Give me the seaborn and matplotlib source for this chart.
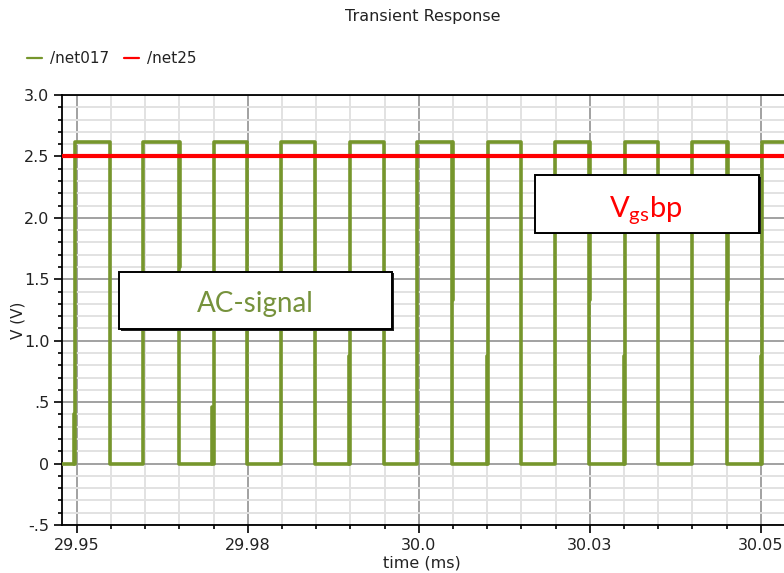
import numpy as np
import pandas as pd
import seaborn as sns
import matplotlib.pyplot as plt
from matplotlib.lines import Line2D
from matplotlib.patches import Rectangle
from matplotlib.ticker import FixedLocator, MultipleLocator

# ---------------- data ----------------
t_start, t_end = 29.94785, 30.0534          # visible time window (ms)
rise_times = [29.9498, 29.9597, 29.9700, 29.9798, 29.9900, 29.9998,
              30.0101, 30.0199, 30.0301, 30.0400, 30.0502]
fall_times = [29.9548, 29.9649, 29.9749, 29.9848, 29.9949, 30.0049,
              30.0149, 30.0249, 30.0350, 30.0450]
v_high = 2.62
v_low = 0.0
v_bias = 2.5                                  # /net25
# partially doubled edge segments (sampling artefacts)
rise_glitch = [0.40, None, 0.46, None, 0.875, None, 0.875, None, 0.875, None, 0.875]
fall_glitch = [None, 1.6, None, None, None, 1.33, None, 1.33, None, 1.33]
glitch_dt = 0.00016

x_ticks = [29.95, 29.975, 30.0, 30.025, 30.05]
x_ticklabels = ["29.95", "29.98", "30.0", "30.03", "30.05"]
y_ticks = [3.0, 2.5, 2.0, 1.5, 1.0, 0.5, 0.0, -0.5]
y_ticklabels = ["3.0", "2.5", "2.0", "1.5", "1.0", ".5", "0", "-.5"]

GREEN = "#76962c"
RED = "#ff0000"

# ---------------- build the waveform table ----------------
rows = [(0, t_start, v_low)]
for i, r in enumerate(rise_times):
    rows += [(0, r, v_low), (0, r, v_high)]
    if i < len(fall_times):
        f = fall_times[i]
        rows += [(0, f, v_high), (0, f, v_low)]
rows.append((0, t_end, v_high))
seg = 1
for r, g in zip(rise_times, rise_glitch):
    if g is not None:
        rows += [(seg, r - glitch_dt, v_low), (seg, r - glitch_dt, g)]
        seg += 1
for f, g in zip(fall_times, fall_glitch):
    if g is not None:
        rows += [(seg, f + glitch_dt, v_high), (seg, f + glitch_dt, g)]
        seg += 1
wave = pd.DataFrame(rows, columns=["seg", "time", "v"])
bias = pd.DataFrame({"time": [t_start, t_end], "v": [v_bias, v_bias]})

# ---------------- figure ----------------
sns.set_theme(style="white")
plt.rcParams['font.family'] = ['DejaVu Sans']
fig = plt.figure(figsize=(7.84, 5.73), dpi=100)
ax = fig.add_axes([62/784, 1-525/573, (784-62)/784, (525-95)/573])

sns.lineplot(data=wave, x="time", y="v", units="seg", estimator=None, sort=False,
             color=GREEN, linewidth=2.6, ax=ax, zorder=3, legend=False)
sns.lineplot(data=bias, x="time", y="v", color=RED, linewidth=3.0, ax=ax,
             zorder=4, legend=False)

ax.set_xlim(t_start, t_end)
ax.set_ylim(-0.5, 3.0)
ax.xaxis.set_major_locator(FixedLocator(x_ticks))
ax.set_xticklabels(x_ticklabels)
ax.xaxis.set_minor_locator(MultipleLocator(0.005))
ax.yaxis.set_major_locator(FixedLocator(y_ticks))
ax.set_yticklabels(y_ticklabels)
ax.yaxis.set_minor_locator(MultipleLocator(0.1))

ax.grid(which="major", color="#9a9a9a", linewidth=1.3, zorder=1)
ax.grid(which="minor", color="#e2e2e2", linewidth=1.4, zorder=0)
ax.set_axisbelow(True)

for s in ["left", "top", "bottom"]:
    ax.spines[s].set_visible(True)
    ax.spines[s].set_color("black")
    ax.spines[s].set_linewidth(1.3)
ax.spines["right"].set_visible(False)

ax.tick_params(which="major", direction="out", length=6, width=1.2, color="black",
               labelsize=11.5, labelcolor="#222222", pad=3, left=True, bottom=True)
ax.tick_params(which="minor", direction="out", length=3, width=1.2, color="black",
               left=True, bottom=True)
ax.set_xlabel("")
ax.set_ylabel("")

fig.text(423/784, 1-16/573, "Transient Response", ha="center", va="center",
         fontsize=11.5, color="#222222")
fig.text(422/784, 1-563/573, "time (ms)", ha="center", va="center",
         fontsize=11.5, color="#222222")
fig.text(18/784, 1-320/573, "V (V)", ha="center", va="center", rotation=90,
         fontsize=11, color="#222222")

handles = [Line2D([], [], color=GREEN, linewidth=1.6),
           Line2D([], [], color=RED, linewidth=1.6)]
fig.legend(handles, ["/net017", "/net25"], loc="upper left",
           bbox_to_anchor=(27/784, 1-51/573), ncol=2, frameon=False,
           fontsize=11, handlelength=0.95, handletextpad=0.55, columnspacing=1.0,
           borderpad=0, borderaxespad=0, labelcolor="#222222")

# annotation boxes
for (x0, y0, x1, y1) in [(119, 271.7, 392, 329.3), (535, 175, 759.3, 232.7)]:
    shadow = Rectangle((x0/784 + 1.5/784, 1 - y1/573 - 1.5/573), (x1-x0)/784, (y1-y0)/573,
                       transform=fig.transFigure, facecolor="#202020", edgecolor="none",
                       zorder=10)
    box = Rectangle((x0/784, 1 - y1/573), (x1-x0)/784, (y1-y0)/573,
                    transform=fig.transFigure, facecolor="white", edgecolor="black",
                    linewidth=1.4, zorder=11)
    fig.patches.extend([shadow, box])

fig.text(255/784, 1-312/573, "AC-signal", ha="center", va="baseline",
         fontsize=20, color="#76923c", family=["Lato", "DejaVu Sans"], zorder=12)
fig.text(646/784, 1-217/573, r"V$_{\mathregular{gs}}$bp", ha="center", va="baseline",
         fontsize=21, color=RED, family=["Lato", "DejaVu Sans"], zorder=12)

fig.savefig("out.png", dpi=100)
